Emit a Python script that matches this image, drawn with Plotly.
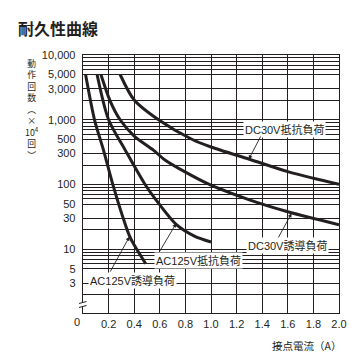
import plotly.graph_objects as go

# ---------------- data ----------------
x_ticks = [0, 0.2, 0.4, 0.6, 0.8, 1.0, 1.2, 1.4, 1.6, 1.8, 2.0]
x_ticktext = ["", "0.2", "0.4", "0.6", "0.8", "1.0", "1.2", "1.4", "1.6", "1.8", "2.0"]
y_ticks = [10000, 5000, 3000, 1000, 500, 300, 100, 50, 30, 10, 5, 3]
y_ticktext = ["10,000", "5,000", "3,000", "1,000", "500", "300", "100", "50", "30", "10", "5", "3"]
y_minor = [9000, 8000, 7000, 6000, 2000, 900, 800, 700, 600, 200,
           90, 80, 70, 60, 20, 9, 8, 7, 6, 2]

current_ac_ind = [0.02, 0.09, 0.16, 0.23, 0.31, 0.37, 0.49]
ops_ac_ind = [5000, 1000, 340, 105, 32, 15, 6]

current_ac_res = [0.11, 0.20, 0.33, 0.48, 0.57, 0.73, 0.87, 1.0]
ops_ac_res = [5000, 1000, 340, 104, 58, 24, 16, 13]

current_dc_ind = [0.14, 0.21, 0.29, 0.40, 0.55, 0.64, 0.97, 1.3, 1.6, 2.0]
ops_dc_ind = [5000, 2000, 1000, 560, 340, 240, 104, 58, 38, 24]

current_dc_res = [0.29, 0.40, 0.59, 0.85, 1.0, 1.3, 1.6, 1.8, 2.0]
ops_dc_res = [5000, 2020, 1000, 500, 380, 246, 158, 125, 101]

series_names = ["AC125V誘導負荷", "AC125V抵抗負荷", "DC30V誘導負荷", "DC30V抵抗負荷"]
y_title = "動<br>作<br>回<br>数<br>︵<br>×<br>10<sup>4</sup><br>回<br>︶"
x_title = "接点電流（A）"
chart_title = "耐久性曲線"

# ---------------- styling / layout ----------------
W, H = 359, 361
ML, MR, MT, MB = 83, 17, 55, 48
PW, PH = W - ML - MR, H - MT - MB
YLO, YHI = 0.017, 4.0
INK = "#231f20"
LAT = "Liberation Sans, Arial, Noto Sans CJK JP"
CJK = "Noto Sans CJK JP, Liberation Sans"


def dx(px):  # pixel x -> data x
    return (px - ML) / PW * 2.0


def dy(py):  # pixel y -> log10 data y
    return YHI - (py - MT) / PH * (YHI - YLO)


def py_paper(py):
    return (H - MB - py) / PH


def px_paper(px):
    return (px - ML) / PW


fig = go.Figure()
for xs, ys, nm in [(current_ac_ind, ops_ac_ind, series_names[0]),
                   (current_ac_res, ops_ac_res, series_names[1]),
                   (current_dc_ind, ops_dc_ind, series_names[2]),
                   (current_dc_res, ops_dc_res, series_names[3])]:
    fig.add_trace(go.Scatter(x=xs, y=ys, mode="lines", name=nm,
                             line=dict(color=INK, width=3, shape="spline", smoothing=0.8),
                             showlegend=False, hoverinfo="skip"))

fig.update_layout(
    width=W, height=H,
    margin=dict(l=ML, r=MR, t=MT, b=MB),
    paper_bgcolor="white", plot_bgcolor="white",
    font=dict(family=LAT, size=11, color=INK),
    title=dict(text="<b>" + chart_title + "</b>", x=18 / W, xanchor="left", xref="container",
               y=1 - 29 / H, yanchor="middle", yref="container",
               font=dict(family=CJK, size=16, color=INK)),
    xaxis=dict(range=[0, 2.0], tickmode="array", tickvals=x_ticks, ticktext=x_ticktext,
               showgrid=True, gridcolor=INK, gridwidth=1, zeroline=False,
               showline=True, linecolor=INK, linewidth=1.3, mirror=True,
               ticks="", tickfont=dict(family=LAT, size=11, color=INK)),
    yaxis=dict(type="log", range=[YLO, YHI], tickmode="array", tickvals=y_ticks,
               ticktext=y_ticktext, showgrid=True, gridcolor=INK, gridwidth=1,
               zeroline=False, showline=True, linecolor=INK, linewidth=1.3, mirror=True,
               ticks="", ticklabelstandoff=4, tickfont=dict(family=LAT, size=11, color=INK),
               minor=dict(tickmode="array", tickvals=y_minor, showgrid=True,
                          gridcolor=INK, gridwidth=1, ticks="")),
)

ann = []
# curve labels (text boxes) and arrows
labels = [
    (series_names[3], 287, 129.5, (250.7, 159.3), (263.3, 135.0)),
    (series_names[2], 290, 245.0, (294.0, 213.3), (280.0, 239.0)),
    (series_names[1], 199.5, 260.0, (177.3, 223.3), (160.0, 252.7)),
    (series_names[0], 133.3, 280.0, (130.0, 236.7), (110.0, 273.0)),
]
for txt, cx, cy, head, tail in labels:
    ann.append(dict(x=dx(cx), y=dy(cy), xref="x", yref="y", text=txt, showarrow=False,
                    bgcolor="white", borderpad=1,
                    font=dict(family=LAT + ", " + CJK, size=11, color=INK)))
    ann.append(dict(x=dx(head[0]), y=dy(head[1]), xref="x", yref="y", text="",
                    showarrow=True, arrowhead=2, arrowsize=0.9, arrowwidth=0.9,
                    arrowcolor=INK, ax=tail[0] - head[0], ay=tail[1] - head[1]))

# x-axis "0" and axis title
ann.append(dict(x=px_paper(77), y=py_paper(321.5), xref="paper", yref="paper", text="0",
                showarrow=False, xanchor="center", yanchor="middle",
                font=dict(family=LAT, size=11, color=INK)))
ann.append(dict(x=px_paper(346), y=py_paper(345), xref="paper", yref="paper",
                text=x_title, showarrow=False, xanchor="right", yanchor="middle",
                font=dict(family=CJK, size=10.5, color=INK)))

# vertical (stacked) y-axis title
ann.append(dict(x=px_paper(31), y=py_paper(56), xref="paper", yref="paper", text=y_title,
                showarrow=False, xanchor="center", yanchor="top", align="center",
                borderpad=0, font=dict(family=CJK, size=8.8, color=INK)))
fig.update_layout(annotations=ann)

# axis break symbol on the y axis
shapes = [
    dict(type="rect", xref="paper", yref="paper", x0=px_paper(79), x1=px_paper(87),
         y0=py_paper(306.5), y1=py_paper(302.5), fillcolor="white", line=dict(width=0), layer="above"),
    dict(type="line", xref="paper", yref="paper", x0=px_paper(79), x1=px_paper(86.5),
         y0=py_paper(303.5), y1=py_paper(301.5), line=dict(color=INK, width=1), layer="above"),
    dict(type="line", xref="paper", yref="paper", x0=px_paper(79), x1=px_paper(86.5),
         y0=py_paper(307.5), y1=py_paper(305.5), line=dict(color=INK, width=1), layer="above"),
]
fig.update_layout(shapes=shapes)

fig.write_html("out.html", config={"displayModeBar": False, "staticPlot": True},
               post_script="document.body.style.margin='0';document.body.style.padding='0';")
